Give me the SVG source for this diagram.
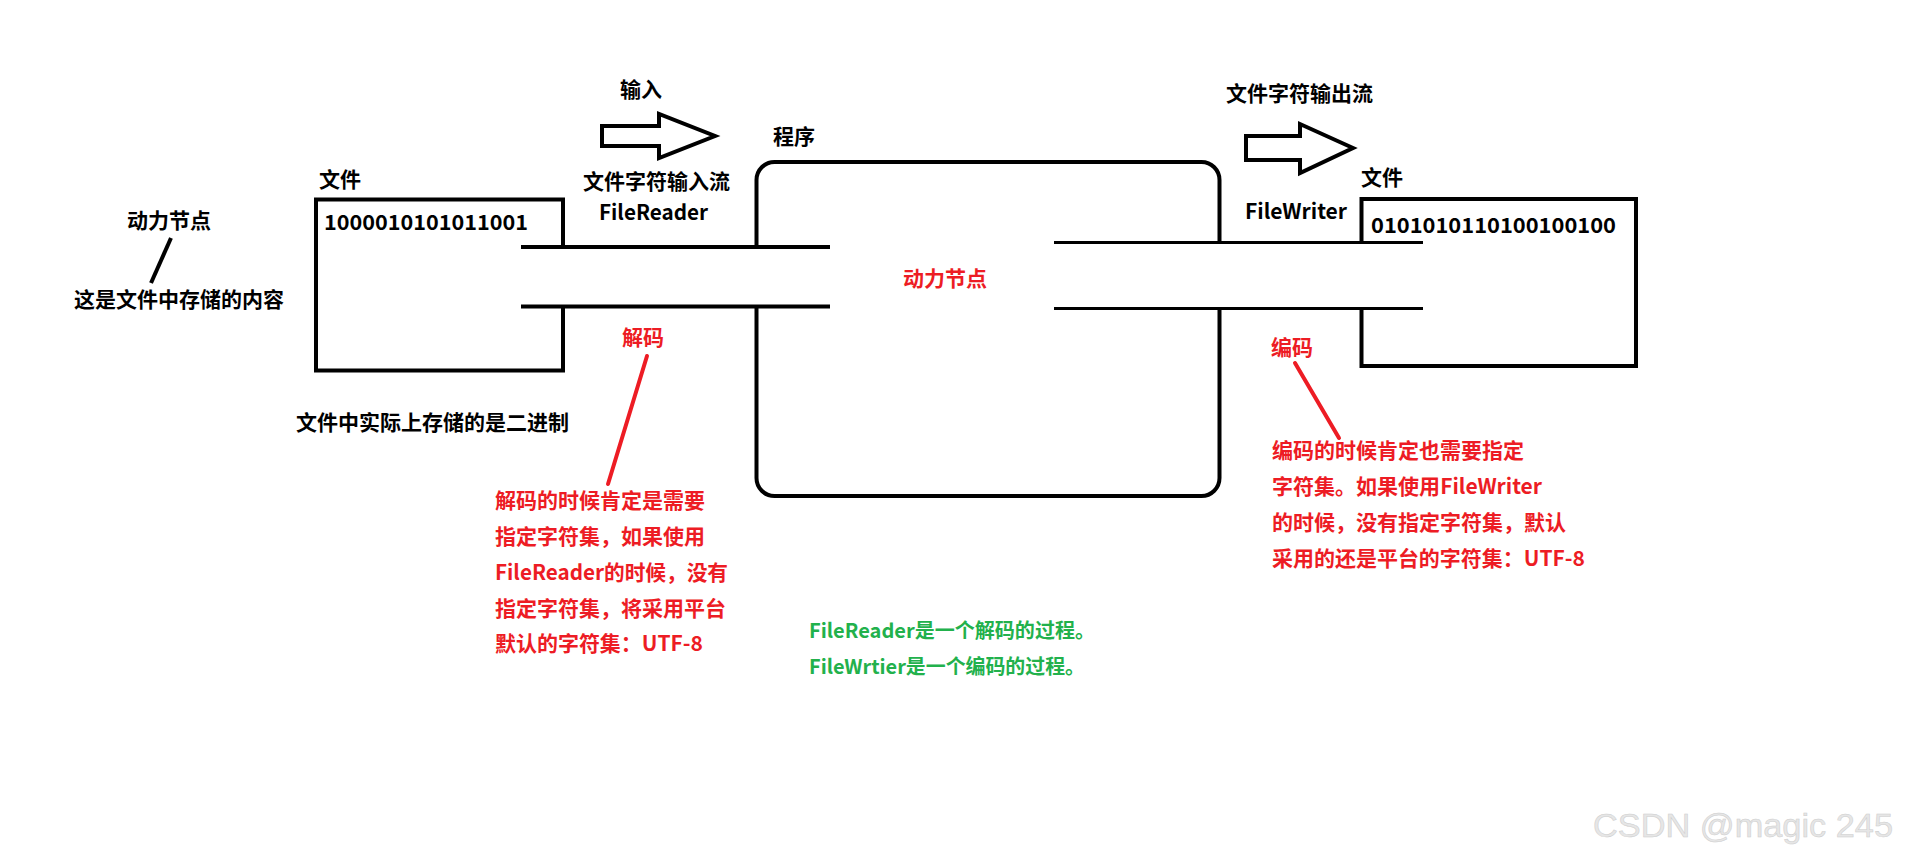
<svg xmlns="http://www.w3.org/2000/svg" width="1909" height="864" viewBox="0 0 1909 864">
<style>
  text { font-family: "Noto Sans CJK SC", "Noto Sans", sans-serif; font-weight: 700; font-size: 21px; }
  .k { fill: #000; }
  .r { fill: #ed1c24; }
  .g { fill: #22b14c; font-size: 20px; }
  .ln { fill: none; stroke: #000; stroke-width: 4; stroke-linejoin: miter; }
  .thin { fill: none; stroke: #000; stroke-width: 3; }
  .red { fill: none; stroke: #ed1c24; stroke-width: 4; stroke-linecap: round; }
  .wm { font-family: "Liberation Sans", Arial, sans-serif; font-weight: 400; font-size: 33px; fill: #e6e6e6; stroke: #cdcdcd; stroke-width: 0.5; }
</style>
<rect width="1909" height="864" fill="#fff"/>

<g id="connectors">
  <line class="ln" x1="521" y1="247" x2="830" y2="247"/>
  <line class="ln" x1="521" y1="306.5" x2="830" y2="306.5"/>
  <line class="thin" x1="1054" y1="242.5" x2="1423" y2="242.5"/>
  <line class="thin" x1="1054" y1="308.5" x2="1423" y2="308.5"/>
  <line class="ln" x1="171" y1="238" x2="151" y2="283"/>
  <line class="red" x1="647" y1="356" x2="608" y2="484"/>
  <line class="red" x1="1295" y1="363" x2="1339" y2="438"/>
</g>

<g id="input-arrow">
  <polygon class="ln" points="602,126 659,126 659,114 715,136 659,158 659,146 602,146"/>
  <text class="k" x="620" y="97">输入</text>
</g>

<g id="output-arrow">
  <polygon class="ln" points="1246,136 1300,136 1300,124 1353,148 1300,173 1300,160 1246,160"/>
  <text class="k" x="1226" y="101">文件字符输出流</text>
</g>

<g id="left-file">
  <path class="ln" d="M563,249 V199.5 H316 V370.5 H563 V305"/>
  <text class="k" x="319" y="187">文件</text>
  <text class="k" x="324" y="230" textLength="204" lengthAdjust="spacingAndGlyphs">1000010101011001</text>
  <text class="k" x="296" y="430">文件中实际上存储的是二进制</text>
</g>

<g id="left-note">
  <text class="k" x="127" y="228">动力节点</text>
  <text class="k" x="74" y="307">这是文件中存储的内容</text>
</g>

<g id="reader-label">
  <text class="k" x="583" y="189">文件字符输入流</text>
  <text class="k" x="599" y="220" textLength="109" lengthAdjust="spacingAndGlyphs">FileReader</text>
</g>

<g id="program">
  <path class="ln" d="M756.5,247 V180 A18,18 0 0 1 774.5,162 H1201.5 A18,18 0 0 1 1219.5,180 V243 M1219.5,308 V478 A18,18 0 0 1 1201.5,496 H774.5 A18,18 0 0 1 756.5,478 V306"/>
  <text class="k" x="773" y="144">程序</text>
  <text class="r" x="903" y="286">动力节点</text>
</g>

<g id="right-file">
  <path class="ln" d="M1361.5,242 V199 H1636 V366 H1361.5 V308"/>
  <text class="k" x="1361" y="185">文件</text>
  <text class="k" x="1371" y="233" textLength="245" lengthAdjust="spacingAndGlyphs">0101010110100100100</text>
</g>

<g id="writer-label">
  <text class="k" x="1245" y="219" textLength="102" lengthAdjust="spacingAndGlyphs">FileWriter</text>
</g>

<g id="decode-note">
  <text class="r" x="622" y="345">解码</text>
  <text class="r" x="495" y="508">解码的时候肯定是需要</text>
  <text class="r" x="495" y="544">指定字符集，如果使用</text>
  <text class="r" x="495" y="580" textLength="233" lengthAdjust="spacingAndGlyphs">FileReader的时候，没有</text>
  <text class="r" x="495" y="616">指定字符集，将采用平台</text>
  <text class="r" x="495" y="651" textLength="208" lengthAdjust="spacingAndGlyphs">默认的字符集：UTF-8</text>
</g>

<g id="encode-note">
  <text class="r" x="1271" y="355">编码</text>
  <text class="r" x="1272" y="458">编码的时候肯定也需要指定</text>
  <text class="r" x="1272" y="494" textLength="270" lengthAdjust="spacingAndGlyphs">字符集。如果使用FileWriter</text>
  <text class="r" x="1272" y="530">的时候，没有指定字符集，默认</text>
  <text class="r" x="1272" y="566" textLength="313" lengthAdjust="spacingAndGlyphs">采用的还是平台的字符集：UTF-8</text>
</g>

<g id="summary">
  <text class="g" x="809" y="638" textLength="286" lengthAdjust="spacingAndGlyphs">FileReader是一个解码的过程。</text>
  <text class="g" x="809" y="674" textLength="276" lengthAdjust="spacingAndGlyphs">FileWrtier是一个编码的过程。</text>
</g>

<g id="watermark">
  <text class="wm" x="1593" y="837" textLength="300" lengthAdjust="spacingAndGlyphs">CSDN @magic 245</text>
</g>
</svg>
